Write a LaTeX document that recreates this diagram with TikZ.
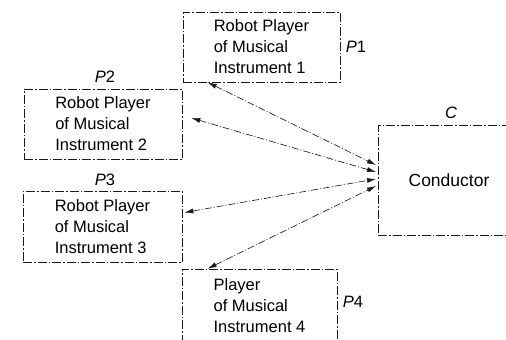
\documentclass[tikz,border=0pt]{standalone}
\usepackage{fontspec}
\setmainfont{Liberation Sans}
\usetikzlibrary{arrows.meta,calc}
\begin{document}
\begin{tikzpicture}[x=1pt,y=-1pt,
  boxdash/.style={draw=black!90, line width=0.7pt, dash pattern=on 9pt off 2pt on 1.5pt off 2pt},
  player/.style={boxdash, rectangle, inner sep=0pt, align=left,
    font=\fontsize{16.5}{21}\selectfont},
  lbl/.style={font=\fontsize{16.5}{19}\selectfont, inner sep=0pt},
  link/.style={draw=black!90, line width=0.65pt, dash pattern=on 7pt off 2pt on 1pt off 2pt,
    {Latex[length=9pt,width=5pt]}-{Latex[length=9pt,width=5pt]}}]
\useasboundingbox (0,0) rectangle (506,340);
\node[player, minimum width=157pt, minimum height=70pt] (p1) at (261.5,47) {Robot Player\\of Musical\\Instrument 1};
\node[player, minimum width=158pt, minimum height=70pt] (p2) at (103,124) {Robot Player\\of Musical\\Instrument 2};
\node[player, minimum width=159pt, minimum height=71pt] (p3) at (102.5,226.5) {Robot Player\\of Musical\\Instrument 3};
\node[player, minimum width=155pt, minimum height=74pt] (p4) at (259.5,306) {Player\\of Musical\\Instrument 4};
\node[boxdash, rectangle, inner sep=0pt, minimum width=142pt, minimum height=110pt,
  font=\fontsize{17.5}{20}\selectfont] (cond) at (449,180) {Conductor};
\node[lbl] (l1) at (356,47) {\textit{P}1};
\node[lbl] (l2) at (105,77) {\textit{P}2};
\node[lbl] (l3) at (105,180) {\textit{P}3};
\node[lbl] (l4) at (353,302) {\textit{P}4};
\node[lbl] (lc) at (451,113) {\textit{C}};
\coordinate (c1) at (376,165);
\coordinate (c2) at (376,172);
\coordinate (c3) at (376,179);
\coordinate (c4) at (376,186);
\draw[link] ([xshift=25pt]p1.south west) -- (c1);
\draw[link] ([shift={(9pt,6pt)}]p2.east) -- (c2);
\draw[link] ([shift={(2pt,14pt)}]p3.east) -- (c3);
\draw[link] ([xshift=26pt]p4.north west) -- (c4);
\end{tikzpicture}
\end{document}
